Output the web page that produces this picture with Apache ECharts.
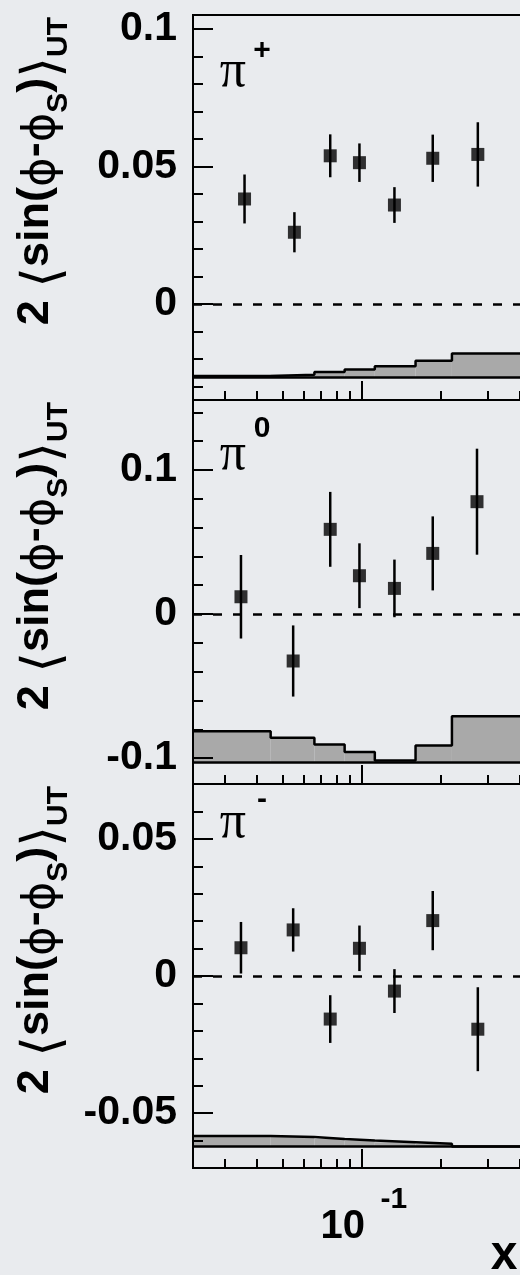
<!DOCTYPE html>
<html>
<head>
<meta charset="utf-8">
<script src="https://cdn.jsdelivr.net/npm/echarts@6/dist/echarts.min.js"></script>
<style>
  html, body { margin: 0; padding: 0; background: #e9ebee; }
  #chart { width: 520px; height: 1275px; }
</style>
</head>
<body>
<div id="chart"></div>
<script>
// Mean x of each bin and the measured asymmetry with its statistical error
const xPiPlus  = [0.0358, 0.0554, 0.0758, 0.0979, 0.133, 0.186, 0.276];
const aPiPlus  = [0.0381, 0.0260, 0.0538, 0.0513, 0.0359, 0.0529, 0.0543];
const ePiPlus  = [0.0089, 0.0073, 0.0078, 0.0070, 0.0065, 0.0086, 0.0117];

const xPiZero  = [0.0347, 0.0548, 0.0758, 0.0979, 0.133, 0.186, 0.274];
const aPiZero  = [0.0120, -0.0326, 0.0588, 0.0266, 0.0178, 0.0421, 0.0780];
const ePiZero  = [0.0290, 0.0247, 0.0260, 0.0225, 0.0200, 0.0257, 0.0368];

const xPiMinus = [0.0347, 0.0548, 0.0758, 0.0979, 0.133, 0.186, 0.276];
const aPiMinus = [0.0103, 0.0168, -0.0157, 0.0101, -0.0055, 0.0202, -0.0194];
const ePiMinus = [0.0094, 0.0079, 0.0087, 0.0083, 0.0080, 0.0108, 0.0153];

// Systematic band: x bin edges, band height per bin, band baseline per panel
const binEdges   = [0.0228, 0.045, 0.066, 0.086, 0.112, 0.16, 0.22, 0.4];
const sysPiPlus  = [0.0005, 0.0010, 0.0020, 0.0029, 0.0041, 0.0061, 0.0087];
const sysPiZero  = [0.0213, 0.0167, 0.0120, 0.0069, 0.0010, 0.0114, 0.0316];
const sysPiMinus = [0.0039, 0.0035, 0.0028, 0.0022, 0.0016, 0.0010, 0.0000];
const sysBase    = [-0.0268, -0.1026, -0.0622];

// Axis ranges and tick values
const xRange      = [0.0228, 0.5];
const xMajorTicks = [0.1];
const xMinorTicks = [0.03, 0.04, 0.05, 0.06, 0.07, 0.08, 0.09, 0.2, 0.3, 0.4];
const yRanges     = [[-0.035, 0.105], [-0.118, 0.1486], [-0.07, 0.07]];
const yMajorTicks = [[0, 0.05, 0.1], [-0.1, 0, 0.1], [-0.05, 0, 0.05]];
const yMinorTicks = [
  [-0.03, -0.02, -0.01, 0.01, 0.02, 0.03, 0.04, 0.06, 0.07, 0.08, 0.09],
  [-0.08, -0.06, -0.04, -0.02, 0.02, 0.04, 0.06, 0.08, 0.12, 0.14],
  [-0.06, -0.04, -0.03, -0.02, -0.01, 0.01, 0.02, 0.03, 0.04, 0.06]
];
const panelLabels = [['\u03c0', '+'], ['\u03c0', '0'], ['\u03c0', '-']];

// Layout of the three stacked frames (the frames run on past the right edge)
const frameLeft = 193, frameWidth = 352.7;
const frameTops = [15, 400, 784];
const frameHeights = [385, 384, 384];

const panels = [
  { x: xPiPlus,  a: aPiPlus,  e: ePiPlus,  sys: sysPiPlus },
  { x: xPiZero,  a: aPiZero,  e: ePiZero,  sys: sysPiZero },
  { x: xPiMinus, a: aPiMinus, e: ePiMinus, sys: sysPiMinus }
];

const boldFont = 'Liberation Sans';
const grids = [], xAxes = [], yAxes = [], series = [], graphics = [];

panels.forEach((p, i) => {
  grids.push({
    left: frameLeft, top: frameTops[i], width: frameWidth, height: frameHeights[i],
    outerBoundsMode: 'none', containLabel: false,
    show: true, borderColor: '#000', borderWidth: 2, backgroundColor: 'transparent'
  });

  const xBase = {
    type: 'log', logBase: 10, gridIndex: i, min: xRange[0], max: xRange[1],
    position: 'bottom', axisLine: { show: false, onZero: false }, splitLine: { show: false }
  };
  // decade label drawn as a power of ten: exponent on the upper line, mantissa below
  xAxes.push(Object.assign({}, xBase, {
    axisTick: { show: true, inside: true, length: 19, customValues: xMajorTicks,
                lineStyle: { color: '#000', width: 2 } },
    axisLabel: {
      show: i === 2, customValues: xMajorTicks, margin: 19,
      formatter: v => '{s|' + Math.round(Math.log10(v)) + '}\n{b|10}',
      rich: {
        b: { fontFamily: boldFont, fontWeight: 'bold', fontSize: 40, lineHeight: 30, color: '#000',
             padding: [0, 38, 0, 0] },
        s: { fontFamily: boldFont, fontWeight: 'bold', fontSize: 30, lineHeight: 25, color: '#000',
             padding: [0, 0, 0, 64] }
      }
    }
  }));
  xAxes.push(Object.assign({}, xBase, {
    axisTick: { show: true, inside: true, length: 9, customValues: xMinorTicks,
                lineStyle: { color: '#000', width: 2 } },
    axisLabel: { show: false }
  }));

  const yBase = {
    type: 'value', gridIndex: i, min: yRanges[i][0], max: yRanges[i][1],
    position: 'left', axisLine: { show: false, onZero: false }, splitLine: { show: false }
  };
  yAxes.push(Object.assign({}, yBase, {
    axisTick: { show: true, inside: true, length: 20, customValues: yMajorTicks[i],
                lineStyle: { color: '#000', width: 2 } },
    axisLabel: { show: true, customValues: yMajorTicks[i], margin: 16,
                 fontFamily: boldFont, fontWeight: 'bold', fontSize: 41, color: '#000' }
  }));
  yAxes.push(Object.assign({}, yBase, {
    axisTick: { show: true, inside: true, length: 10, customValues: yMinorTicks[i],
                lineStyle: { color: '#000', width: 2 } },
    axisLabel: { show: false }
  }));

  const xi = 2 * i, yi = 2 * i;
  const base = sysBase[i];
  const bins = p.sys.map((h, k) => [binEdges[k], binEdges[k + 1], h]);

  // grey systematic band
  series.push({
    type: 'custom', xAxisIndex: xi, yAxisIndex: yi, z: -1, silent: true,
    data: bins, encode: { x: [0, 1], y: 2 },
    renderItem: (params, api) => {
      const lo = api.coord([api.value(0), base]);
      const hi = api.coord([api.value(1), base + api.value(2)]);
      return { type: 'rect',
               shape: { x: lo[0], y: hi[1], width: hi[0] - lo[0], height: lo[1] - hi[1] },
               style: { fill: '#a9a9a9' } };
    }
  });

  // band outline and its baseline
  const outline = bins.map(b => [b[0], base + b[2]]);
  outline.push([binEdges[binEdges.length - 1], base + p.sys[p.sys.length - 1]]);
  series.push({
    type: 'line', xAxisIndex: xi, yAxisIndex: yi, step: 'end', silent: true,
    data: outline, symbol: 'none', lineStyle: { color: '#000', width: 2.5 },
    markLine: { symbol: 'none', silent: true, precision: 10, label: { show: false },
                lineStyle: { color: '#000', width: 2.5, type: 'solid' },
                data: [{ yAxis: base }] }
  });

  // statistical error bars
  series.push({
    type: 'custom', xAxisIndex: xi, yAxisIndex: yi, silent: true,
    data: p.x.map((xv, k) => [xv, p.a[k], p.e[k]]), encode: { x: 0, y: 1 },
    renderItem: (params, api) => {
      const xv = api.value(0), yv = api.value(1), ev = api.value(2);
      const p1 = api.coord([xv, yv - ev]), p2 = api.coord([xv, yv + ev]);
      return { type: 'line', shape: { x1: p1[0], y1: p1[1], x2: p2[0], y2: p2[1] },
               style: { stroke: '#000', lineWidth: 2.5 } };
    }
  });

  // data points and the zero reference line
  series.push({
    type: 'scatter', xAxisIndex: xi, yAxisIndex: yi, silent: true,
    symbol: 'rect', symbolSize: 13, itemStyle: { color: '#000' },
    data: p.x.map((xv, k) => [xv, p.a[k]]),
    markLine: { symbol: 'none', silent: true, precision: 10, label: { show: false },
                lineStyle: { color: '#000', width: 2.5, type: [9, 11] },
                data: [{ yAxis: 0 }] }
  });

  // vertical axis title
  graphics.push({
    type: 'text', x: 36, y: frameTops[i] + 2, rotation: Math.PI / 2,
    style: {
      text: '{m|2 }{br|\u27e8}{m|sin(}{ph|\u03d5}{m|-}{ph|\u03d5}{sub|S}{m|)}{br|\u27e9}{sub|UT}',
      align: 'right', verticalAlign: 'middle',
      rich: {
        m:   { fontFamily: boldFont, fontWeight: 'bold', fontSize: 45, lineHeight: 50, fill: '#000' },
        br:  { fontFamily: 'DejaVu Sans', fontWeight: 'normal', fontSize: 53, lineHeight: 52,
               padding: [18, 0, 0, 0], fill: '#000' },
        ph:  { fontFamily: 'DejaVu Sans', fontWeight: 'normal', fontSize: 45, lineHeight: 50,
               padding: [12, 0, 0, 0], fill: '#000' },
        sub: { fontFamily: boldFont, fontWeight: 'bold', fontSize: 30, lineHeight: 29,
               padding: [46, 0, 0, 0], fill: '#000' }
      }
    }
  });

  // particle label inside the frame
  const piY = [72, 455, 823][i];
  const supY = [51, 429, 800][i];
  graphics.push({
    type: 'text', x: 233, y: piY,
    style: { text: panelLabels[i][0], fontFamily: 'Liberation Serif', fontSize: 52,
             align: 'center', verticalAlign: 'middle', fill: '#000' }
  });
  graphics.push({
    type: 'text', x: 262, y: supY,
    style: { text: panelLabels[i][1], fontFamily: boldFont, fontWeight: 'bold', fontSize: 30,
             align: 'center', verticalAlign: 'middle', fill: '#000' }
  });
});

// horizontal axis title
graphics.push({
  type: 'text', x: 504, y: 1256,
  style: { text: 'x', fontFamily: boldFont, fontWeight: 'bold', fontSize: 48,
           align: 'center', verticalAlign: 'middle', fill: '#000' }
});

const chart = echarts.init(document.getElementById('chart'), null, { renderer: 'canvas' });
chart.setOption({
  backgroundColor: '#e9ebee',
  animation: false,
  grid: grids,
  xAxis: xAxes,
  yAxis: yAxes,
  series: series,
  graphic: graphics
});
</script>
</body>
</html>
